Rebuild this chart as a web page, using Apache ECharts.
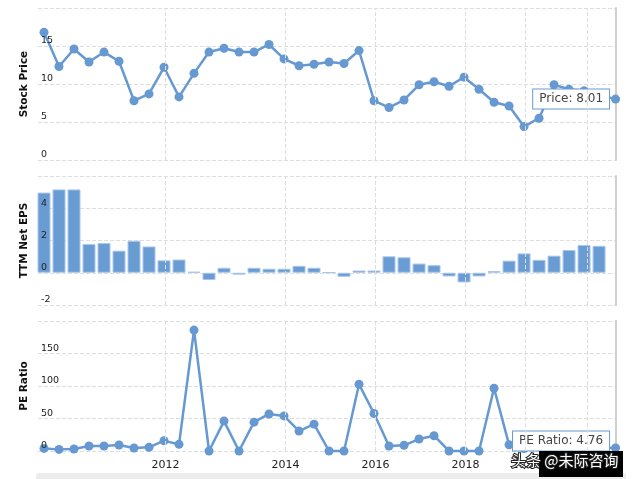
<!DOCTYPE html>
<html>
<head>
<meta charset="utf-8">
<script src="https://cdn.jsdelivr.net/npm/echarts@6/dist/echarts.min.js"></script>
<style>html,body{margin:0;padding:0;background:#fff}#c{width:640px;height:479px}</style>
</head>
<body>
<div id="c"></div>
<script>
// Quarterly data (oldest -> newest)
const price = [16.8, 12.3, 14.6, 12.9, 14.2, 13.0, 7.8, 8.7, 12.2, 8.3, 11.4, 14.2, 14.7, 14.2, 14.2, 15.2, 13.3, 12.4, 12.6, 12.9, 12.7, 14.4, 7.8, 6.9, 7.9, 9.9, 10.3, 9.7, 10.9, 9.3, 7.6, 7.1, 4.4, 5.5, 9.9, 9.3, 9.1, 8.6];
const eps = [4.97, 5.17, 5.17, 1.78, 1.84, 1.37, 1.98, 1.63, 0.77, 0.82, 0.06, -0.45, 0.31, -0.12, 0.31, 0.25, 0.25, 0.43, 0.31, 0.02, -0.25, 0.14, 0.14, 1.02, 0.96, 0.57, 0.47, -0.23, -0.6, -0.23, 0.1, 0.75, 1.2, 0.8, 1.06, 1.41, 1.72, 1.67];
const pe = [4, 2.5, 3, 7.7, 7.7, 9.2, 4.6, 5.6, 15.8, 10.2, 186, 0, 46, 0, 44.4, 57, 54, 30.6, 41.3, 0, 0, 102.6, 57.7, 7.7, 8.7, 18.4, 23.5, 0, 0, 0, 96.5, 9.7, 3.7, 6.9, 9.3, 6.6, 5.3, 5.1];
const currentPrice = 8.01;
const currentPE = 4.76;
// year tick labels and their positions on the quarter scale
const yearLabels = ['2012', '2014', '2016', '2018', '2020'];
const yearPos = [8.1, 16.1, 22.1, 28.1, 32.1];
const gridPos = [8.1, 16.1, 22.1, 28.1, 32.1, 36.2];
const currentPos = 38.1;

const BLUE = '#6699d1';
const FONT = 'DejaVu Sans';

const priceData = price.map((v, i) => [i, v]);
const epsData = eps.map((v, i) => [i, v]);
const peData = pe.map((v, i) => [i, v]);

const tipLabel = (text, offset) => ({
  show: true, position: 'left', distance: 2, offset: offset || [0, 0],
  formatter: text, backgroundColor: '#fff', borderColor: BLUE, borderWidth: 1,
  padding: [4, 6, 3, 6], color: '#444', fontSize: 12, fontFamily: FONT
});
priceData.push({ value: [currentPos, currentPrice], label: tipLabel('Price: ' + currentPrice.toFixed(2)) });
peData.push({ value: [currentPos, currentPE], label: tipLabel('PE Ratio: ' + currentPE.toFixed(2), [0, -7]) });

const xBase = (gi, showLabel) => ({
  type: 'value', gridIndex: gi, min: -0.4, max: 38.13,
  axisLine: { show: false }, axisTick: { show: false }, splitLine: { show: false },
  axisLabel: showLabel ? {
    show: true, customValues: yearPos, margin: 9, color: '#222', fontSize: 11, fontFamily: FONT,
    formatter: v => { const k = yearPos.findIndex(p => Math.abs(p - v) < 0.01); return k >= 0 ? yearLabels[k] : ''; }
  } : { show: false }
});
const yBase = (gi, name, min, max, interval) => ({
  type: 'value', gridIndex: gi, position: 'left', min, max, interval, name,
  nameLocation: 'middle', nameGap: 8,
  nameTextStyle: { fontWeight: 'bold', fontSize: 10.5, color: '#111', fontFamily: FONT },
  axisLine: { show: false }, axisTick: { show: false },
  splitLine: { show: true, lineStyle: { type: 'dashed', color: '#dedede', width: 1 } },
  axisLabel: { show: false }
});
// labels-only axis drawn above the marks
const yLabels = (gi, min, max, interval) => ({
  type: 'value', gridIndex: gi, position: 'left', offset: 0, min, max, interval, z: 10,
  axisLine: { show: false }, axisTick: { show: false }, splitLine: { show: false },
  axisLabel: { inside: true, margin: 3, verticalAlign: 'bottom', showMaxLabel: false, fontSize: 9.5, color: '#222', fontFamily: FONT }
});
const yRight = gi => ({
  type: 'value', gridIndex: gi, position: 'right',
  axisLine: { show: true, lineStyle: { color: '#cfcfcf', width: 2 } },
  axisTick: { show: false }, axisLabel: { show: false }, splitLine: { show: false }
});
const vGrid = (gi) => ({
  type: 'line', xAxisIndex: gi, yAxisIndex: gi, data: [], z: 1, silent: true,
  markLine: {
    silent: true, symbol: ['none', 'none'], label: { show: false }, animation: false,
    lineStyle: { type: 'dashed', color: '#dedede', width: 1 },
    data: gridPos.map(v => ({ xAxis: v }))
  }
});

const chart = echarts.init(document.getElementById('c'));
chart.setOption({
  animation: false,
  backgroundColor: '#fff',
  grid: [
    { left: 38, right: 24, top: 8, height: 152 },
    { left: 38, right: 24, top: 176, height: 129 },
    { left: 38, right: 24, top: 321, height: 130 }
  ],
  xAxis: [xBase(0, false), xBase(1, false), xBase(2, true)],
  yAxis: [
    yBase(0, 'Stock Price', 0, 20, 5),
    yBase(1, 'TTM Net EPS', -2, 6, 2),
    yBase(2, 'PE Ratio', 0, 200, 50),
    yRight(0), yRight(1), yRight(2),
    yLabels(0, 0, 20, 5), yLabels(1, -2, 6, 2), yLabels(2, 0, 200, 50)
  ],
  series: [
    vGrid(0), vGrid(1), vGrid(2),
    {
      type: 'line', xAxisIndex: 0, yAxisIndex: 0, data: priceData, z: 3, clip: false,
      symbol: 'circle', symbolSize: 9, itemStyle: { color: BLUE },
      lineStyle: { color: BLUE, width: 2.5 }
    },
    {
      type: 'bar', xAxisIndex: 1, yAxisIndex: 1, data: epsData, z: 3, barWidth: 13,
      itemStyle: { color: '#6a9cd4', borderColor: '#a9c6ea', borderWidth: 1 }
    },
    {
      type: 'line', xAxisIndex: 2, yAxisIndex: 2, data: peData, z: 3, clip: false,
      symbol: 'circle', symbolSize: 9, itemStyle: { color: BLUE },
      lineStyle: { color: BLUE, width: 2.5 }
    }
  ],
  graphic: [
    { type: 'rect', z: -10, shape: { x: 36, y: 473, width: 590, height: 10, r: 3 }, style: { fill: '#ececec' } },
    { type: 'rect', z: 100, shape: { x: 539, y: 451, width: 84, height: 26 }, style: { fill: '#000' } },
    { type: 'text', z: 101, x: 511, y: 460, style: { text: '头条 @未际咨询', fill: '#fff', stroke: '#222', lineWidth: 2, fontSize: 15, fontFamily: 'Noto Sans CJK SC', verticalAlign: 'middle' } }
  ]
});
</script>
</body>
</html>
